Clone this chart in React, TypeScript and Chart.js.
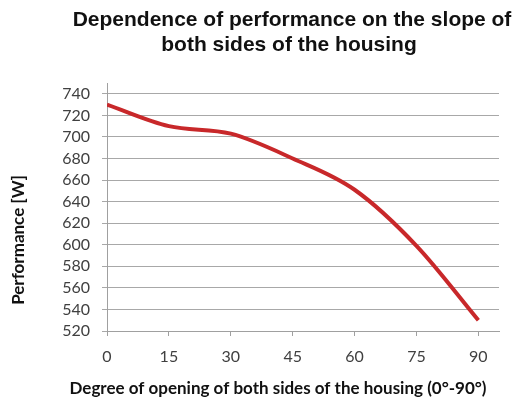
import React, { useEffect, useRef } from "react";
import { Chart, registerables } from "chart.js";

Chart.register(...registerables);

const TITLE_LINES = ["Dependence of performance on the slope of", "both sides of the housing"];
const X_TITLE = "Degree of opening of both sides of the housing (0°-90°)";
const Y_TITLE = "Performance [W]";

const degrees = [0, 15, 30, 45, 60, 75, 90];
const performance = [730, 710, 703, 680, 651, 599, 530];

const xTicks = [0, 15, 30, 45, 60, 75, 90];
const yTicks = [520, 540, 560, 580, 600, 620, 640, 660, 680, 700, 720, 740];

const titlesPlugin = {
  id: "customTitles",
  afterDraw(chart: any) {
    const ctx = chart.ctx;
    ctx.save();
    ctx.fillStyle = "#111111";
    ctx.textAlign = "center";
    ctx.textBaseline = "middle";
    ctx.font = "bold 21px 'Liberation Sans', Arial, sans-serif";
    ctx.fillText(TITLE_LINES[0], 292, 20);
    ctx.fillText(TITLE_LINES[1], 289, 45);

    ctx.font = "bold 17px Lato, sans-serif";
    ctx.fillStyle = "#111111";
    ctx.fillText(X_TITLE, 278, 389);

    ctx.translate(19, 240);
    ctx.rotate(-Math.PI / 2);
    ctx.fillText(Y_TITLE, 0, 0);
    ctx.restore();
  },
};

export default function App() {
  const canvasRef = useRef<HTMLCanvasElement | null>(null);

  useEffect(() => {
    if (!canvasRef.current) return;
    const chart = new Chart(canvasRef.current, {
      type: "line",
      data: {
        datasets: [
          {
            data: degrees.map((d, i) => ({ x: d, y: performance[i] })),
            borderColor: "#c8282a",
            borderWidth: 4,
            pointRadius: 0,
            cubicInterpolationMode: "monotone",
            fill: false,
          },
        ],
      },
      options: {
        animation: false,
        responsive: false,
        maintainAspectRatio: false,
        layout: { padding: { top: 83, right: 14, left: 0, bottom: 0 } },
        plugins: {
          legend: { display: false },
          title: { display: false },
          tooltip: { enabled: false },
        },
        scales: {
          x: {
            type: "linear",
            min: 0,
            max: 95,
            afterBuildTicks: (scale: any) => {
              scale.ticks = xTicks.map((v) => ({ value: v }));
            },
            afterFit: (scale: any) => {
              scale.height = 74;
            },
            grid: {
              drawOnChartArea: false,
              drawTicks: true,
              tickLength: 5,
              color: "#a0a0a0",
            },
            border: { display: true, color: "#a0a0a0", width: 1 },
            ticks: {
              color: "#404040",
              font: { family: "Lato", size: 16 },
              padding: 11,
              maxRotation: 0,
            },
          },
          y: {
            type: "linear",
            min: 520,
            max: 750,
            afterBuildTicks: (scale: any) => {
              scale.ticks = yTicks.map((v) => ({ value: v }));
            },
            afterFit: (scale: any) => {
              scale.width = 107;
            },
            grid: {
              drawOnChartArea: true,
              drawTicks: true,
              tickLength: 5,
              color: "#a8a8a8",
              lineWidth: 1,
            },
            border: { display: true, color: "#a0a0a0", width: 1 },
            ticks: {
              color: "#404040",
              font: { family: "Lato", size: 16 },
              padding: 12,
            },
          },
        },
      },
      plugins: [titlesPlugin],
    } as any);
    return () => chart.destroy();
  }, []);

  return (
    <div style={{ position: "fixed", left: 0, top: 0, width: 513, height: 405, background: "#ffffff" }}>
      <canvas ref={canvasRef} width={513} height={405} style={{ width: 513, height: 405, display: "block" }} />
    </div>
  );
}
